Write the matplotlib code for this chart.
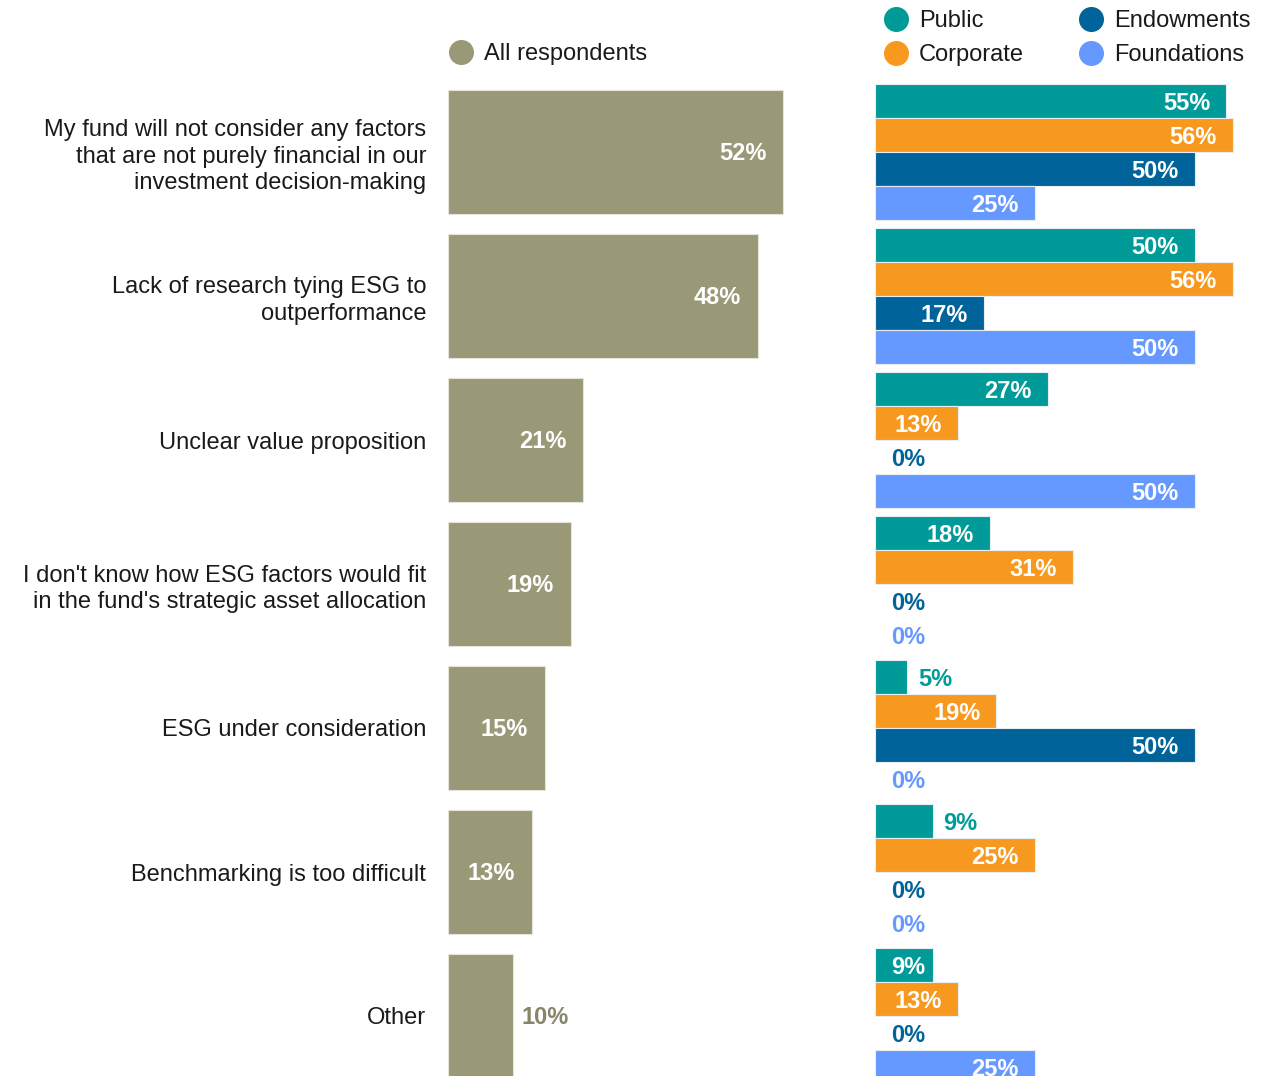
import matplotlib.pyplot as plt
from matplotlib.lines import Line2D

plt.rcParams['font.family'] = ['Liberation Sans', 'DejaVu Sans']

reasons = [
    "My fund will not consider any factors\nthat are not purely financial in our\ninvestment decision-making",
    "Lack of research tying ESG to\noutperformance",
    "Unclear value proposition",
    "I don't know how ESG factors would fit\nin the fund's strategic asset allocation",
    "ESG under consideration",
    "Benchmarking is too difficult",
    "Other",
]
all_respondents = [52, 48, 21, 19, 15, 13, 10]

groups = ["Public", "Corporate", "Endowments", "Foundations"]
public = [55, 50, 27, 18, 5, 9, 9]
corporate = [56, 56, 13, 31, 19, 25, 13]
endowments = [50, 17, 0, 0, 50, 0, 0]
foundations = [25, 50, 50, 0, 0, 0, 25]

OLIVE = "#999977"
colors = ["#009b98", "#f7991f", "#006399", "#6699ff"]

W, H = 1268, 1076
fig = plt.figure(figsize=(W / 100, H / 100), dpi=100)

# rows are 144 px apart, first row centred at y=152 px
ylim = ((H - 152) / 144, -152 / 144)
rows = list(range(len(reasons)))


def px2pt(p):
    return p * 72 / 100


def add_label(ax, v, y, color, inside, pad_in=16, pad_out=11):
    txt = f"{v}%"
    dy = -px2pt(2)
    kw = dict(va="center", fontsize=17, fontweight="bold",
              textcoords="offset points", annotation_clip=False)
    if v == 0:
        ax.annotate(txt, (0, y), xytext=(px2pt(16), dy), ha="left", color=color, **kw)
    elif inside:
        ax.annotate(txt, (v, y), xytext=(-px2pt(pad_in), dy), ha="right", color="white", **kw)
    else:
        ax.annotate(txt, (v, y), xytext=(px2pt(pad_out), dy), ha="left", color=color, **kw)


# left panel: all respondents
ax1 = fig.add_axes([448 / W, 0, 387 / W, 1])
ax1.barh(rows, all_respondents, height=124 / 144, color=OLIVE,
         edgecolor="#e4e4da", linewidth=0.8)
for i, v in enumerate(all_respondents):
    add_label(ax1, v, i, "#86866a", v >= 13, pad_in=17, pad_out=9)
ax1.set_xlim(0, 60)
ax1.set_ylim(*ylim)
ax1.set_yticks(rows)
ax1.set_yticklabels(reasons, fontsize=17, color="#1a1a1a", linespacing=1.27)
ax1.tick_params(axis="y", length=0, pad=px2pt(22))
ax1.set_xticks([])
for s in ax1.spines.values():
    s.set_visible(False)

# right panel: by investor type
ax2 = fig.add_axes([875 / W, 0, 383.4 / W, 1])
series = [public, corporate, endowments, foundations]
h = 34 / 144
inside_small = {(6, 0)}
for k, (vals, c) in enumerate(zip(series, colors)):
    ys = [r + (k - 1.5) * h for r in rows]
    edges = ["#e6eef2" if v > 0 else "none" for v in vals]
    ax2.barh(ys, vals, height=h, color=c, edgecolor=edges, linewidth=0.8)
    for i, (v, y) in enumerate(zip(vals, ys)):
        if (i, k) in inside_small:
            add_label(ax2, v, y, c, True, pad_in=7)
        else:
            add_label(ax2, v, y, c, v >= 13)
ax2.set_xlim(0, 60)
ax2.set_ylim(*ylim)
ax2.axis("off")


def legend_item(px, py, label, color):
    fig.add_artist(Line2D([px / W], [1 - py / H], marker="o", markersize=17,
                          color=color, linestyle="none", transform=fig.transFigure))
    fig.text((px + 23) / W, 1 - (py + 2) / H, label, fontsize=17, color="#1a1a1a",
             va="center", ha="left")


legend_item(461, 52, "All respondents", OLIVE)
legend_item(896, 19, groups[0], colors[0])
legend_item(896, 53, groups[1], colors[1])
legend_item(1091, 19, groups[2], colors[2])
legend_item(1091, 53, groups[3], colors[3])

fig.savefig("out.png", dpi=100)
